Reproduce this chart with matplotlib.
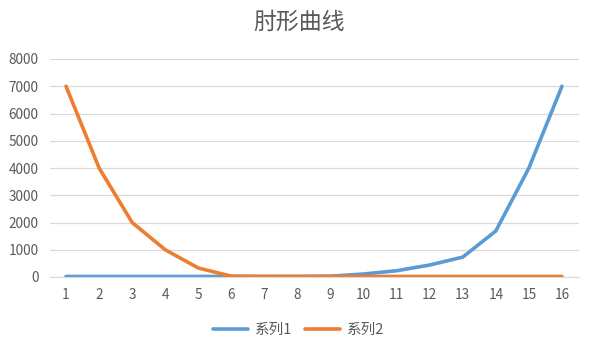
import matplotlib.pyplot as plt
import numpy as np

plt.rcParams['font.family'] = ['Noto Sans CJK SC', 'DejaVu Sans']

# 簇数 k 与两组误差值
categories = [str(i) for i in range(1, 17)]
series1 = [20, 20, 20, 20, 20, 20, 20, 20, 30, 110, 230, 440, 730, 1690, 4000, 7000]
series2 = [7000, 4000, 2000, 1000, 330, 30, 20, 20, 20, 20, 20, 20, 20, 20, 20, 20]
yticks = [0, 1000, 2000, 3000, 4000, 5000, 6000, 7000, 8000]

text_color = '#595959'
grid_color = '#d9d9d9'

fig = plt.figure(figsize=(5.97, 3.49), dpi=100)
ax = fig.add_axes([49.5 / 597, 72 / 349, 529 / 597, 218 / 349])

x = np.arange(1, len(categories) + 1)
ax.plot(x, series1, color='#5B9BD5', lw=2.6, label='系列1', solid_capstyle='round')
ax.plot(x, series2, color='#ED7D31', lw=2.6, label='系列2', solid_capstyle='round')

ax.set_xlim(0.5, len(categories) + 0.5)
ax.set_ylim(0, 8000)
ax.set_xticks(x)
ax.set_xticklabels(categories)
ax.set_yticks(yticks)
ax.set_yticklabels([str(v) for v in yticks])
ax.tick_params(axis='both', length=0, labelsize=9.8, colors=text_color)
ax.tick_params(axis='x', pad=8)
ax.tick_params(axis='y', pad=8)

ax.grid(axis='y', color=grid_color, lw=0.9)
ax.set_axisbelow(True)
for s in ['top', 'right', 'left']:
    ax.spines[s].set_visible(False)
ax.spines['bottom'].set_color(grid_color)

fig.text(0.5, 1 - 22 / 349, '肘形曲线', ha='center', va='center', fontsize=16.5, color=text_color)

fig.legend(loc='center', bbox_to_anchor=(0.5, 1 - 330 / 349), ncol=2, frameon=False,
           fontsize=10.5, labelcolor=text_color, handlelength=2.4, columnspacing=0.9,
           handletextpad=0.45)

fig.savefig('out.png', dpi=100)
